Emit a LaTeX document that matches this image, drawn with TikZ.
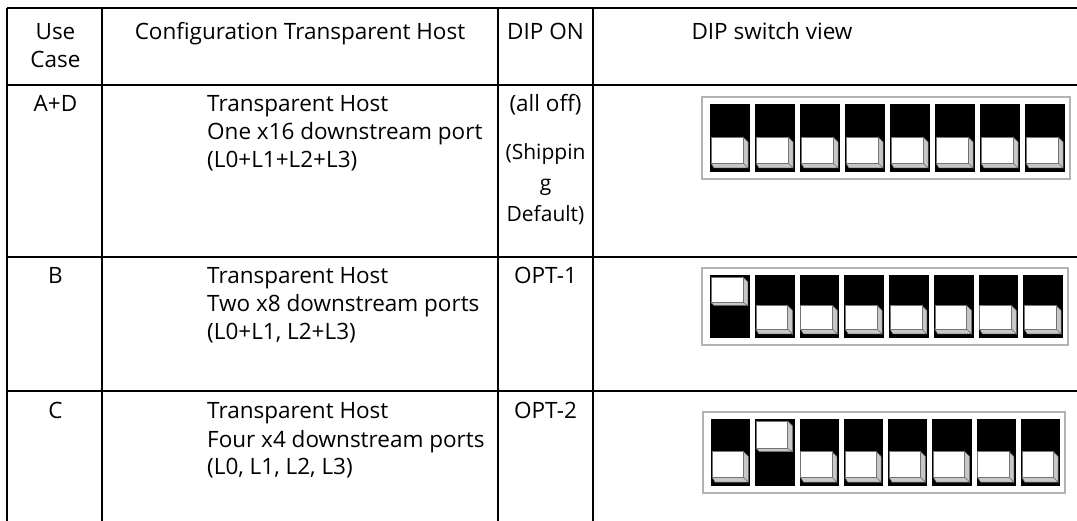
\documentclass[tikz,border=0pt]{standalone}
\usepackage{fontspec}
\setmainfont{Open Sans}
\tikzset{
  gridline/.style={line width=1.2pt, black},
  thickline/.style={line width=2.2pt, black},
  txt/.style={anchor=base, inner sep=0pt, font=\fontsize{22.5}{27}\selectfont},
  stxt/.style={txt, font=\fontsize{21}{25}\selectfont},
  ltxt/.style={txt, anchor=base west},
  dipframe/.style={draw=black!30, line width=2.2pt},
  keyface/.style={fill=white, draw=black!55, line width=0.5pt},
  keybevel/.style={fill=black!22, draw=black!55, line width=0.5pt},
}
% #1 left, #2 top, #3 right, #4 bottom, #5 index of the switch that is on (-1 = none)
\newcommand\dipblock[5]{%
  \draw[dipframe] (#1,#2) rectangle (#3,#4);
  \pgfmathsetmacro\dpitch{(#3-#1-8)/8}
  \pgfmathsetmacro\dyt{#2+7}
  \pgfmathsetmacro\dyb{#4-7}
  \pgfmathsetmacro\dym{(\dyt+\dyb)/2}
  \foreach \i in {0,...,7}{
    \pgfmathsetmacro\xa{#1+8+\i*\dpitch}
    \pgfmathsetmacro\xb{\xa+\dpitch-5}
    \fill[black] (\xa,\dyt) rectangle (\xb,\dyb);
    \ifnum\i=#5\relax
      \pgfmathsetmacro\ft{\dyt+2}
      \pgfmathsetmacro\fb{\dym-4}
      \pgfmathsetmacro\bb{\dym-1}
    \else
      \pgfmathsetmacro\ft{\dym-1}
      \pgfmathsetmacro\fb{\dyb-9}
      \pgfmathsetmacro\bb{\dyb-4}
    \fi
    \draw[keybevel] (\xb-7,\ft) -- (\xb-2,\ft+5) -- (\xb-2,\bb) -- (\xb-7,\fb) -- cycle;
    \draw[keybevel] (\xa+1,\fb) -- (\xb-7,\fb) -- (\xb-2,\bb) -- (\xa+4,\bb) -- cycle;
    \draw[keyface] (\xa+1,\ft) rectangle (\xb-7,\fb);
  }
}
\begin{document}
\begin{tikzpicture}[x=1pt,y=-1pt]
\useasboundingbox (0,0) rectangle (1077,521);
% table rules
\draw[gridline] (7,8) -- (1077,8);
\draw[gridline] (7,85) -- (1077,85);
\draw[gridline] (7,257) -- (1077,257);
\draw[thickline] (7,391) -- (1077,391);
\draw[gridline] (7,8) -- (7,521);
\draw[gridline] (102,8) -- (102,521);
\draw[gridline] (498,8) -- (498,521);
\draw[gridline] (593,8) -- (593,521);
% header
\node[txt] (h1a) at (55.5,40) {Use};
\node[txt] (h1b) at (55.5,68) {Case};
\node[txt] (h2) at (300,40) {Configuration Transparent Host};
\node[txt] (h3) at (545.5,40) {DIP ON};
\node[txt] (h4) at (772,40) {DIP switch view};
% row A+D
\node[txt] (r1c1) at (55.5,112) {A+D};
\node[ltxt] (r1a) at (207,112) {Transparent Host};
\node[ltxt] (r1b) at (207,140) {One x16 downstream port};
\node[ltxt] (r1c) at (207,168) {(L0+L1+L2+L3)};
\node[txt] (r1d) at (545.5,112) {(all off)};
\node[stxt] (r1e) at (545.5,160) {(Shippin};
\node[stxt] (r1f) at (545.5,191) {g};
\node[stxt] (r1g) at (545.5,222) {Default)};
\dipblock{702}{97}{1070}{179}{-1}
% row B
\node[txt] (r2c1) at (55.5,284) {B};
\node[ltxt] (r2a) at (207,284) {Transparent Host};
\node[ltxt] (r2b) at (207,312) {Two x8 downstream ports};
\node[ltxt] (r2c) at (207,340) {(L0+L1, L2+L3)};
\node[txt] (r2d) at (545.5,284) {OPT-1};
\dipblock{702}{268}{1068}{345}{0}
% row C
\node[txt] (r3c1) at (55.5,419) {C};
\node[ltxt] (r3a) at (207,419) {Transparent Host};
\node[ltxt] (r3b) at (207,447) {Four x4 downstream ports};
\node[ltxt] (r3c) at (207,475) {(L0, L1, L2, L3)};
\node[txt] (r3d) at (545.5,419) {OPT-2};
\dipblock{703}{412}{1065}{493}{1}
\end{tikzpicture}
\end{document}
